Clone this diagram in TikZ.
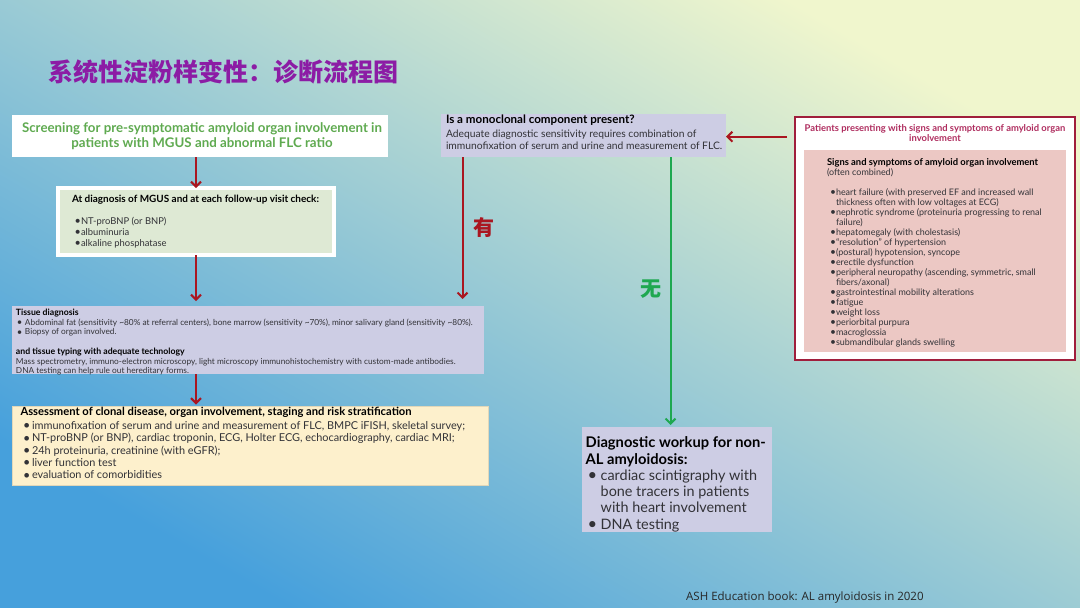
\documentclass[tikz,border=0pt]{standalone}
\usepackage{graphicx}
\usepackage{fontspec}
\setmainfont{Lato}
\newfontfamily\cjk{Noto Sans CJK SC}
\newfontfamily\footfont{Open Sans}
\usetikzlibrary{arrows.meta}
\setlength\parindent{0pt}
\definecolor{bgblue}{RGB}{70,160,220}
\definecolor{bgmid}{RGB}{150,205,215}
\definecolor{bgpale}{RGB}{240,246,205}
\definecolor{titlepurple}{RGB}{140,28,165}
\definecolor{arrowred}{RGB}{170,22,32}
\definecolor{arrowgreen}{RGB}{30,168,80}
\definecolor{scrgreen}{RGB}{95,170,80}
\definecolor{greenfill}{RGB}{222,233,212}
\definecolor{lav}{RGB}{205,205,228}
\definecolor{cream}{RGB}{253,240,204}
\definecolor{pinkfill}{RGB}{236,200,196}
\definecolor{maroon}{RGB}{160,30,60}
\definecolor{pinktitle}{RGB}{175,45,95}
\definecolor{txtgray}{RGB}{50,50,55}
\newcommand\bu[2]{\makebox[#2][l]{\hspace{#1}\rlap{\raisebox{-0.04em}{\scalebox{1.15}{\textbullet}}}}}
\newcommand\hd[2]{{\fontsize{#1}{#1}\selectfont\bfseries\color{black}#2}}
\begin{document}
\begin{tikzpicture}[x=1pt,y=-1pt,
  box/.style={rectangle, inner sep=0pt, outer sep=0pt, anchor=north west},
  txt/.style={inner sep=0pt, outer sep=0pt, anchor=north west, align=left, text=txtgray},
  redarr/.style={draw=arrowred, line width=2pt, -{Straight Barb[length=5pt,width=10pt]}},
  greenarr/.style={draw=arrowgreen, line width=2pt, -{Straight Barb[length=5pt,width=10pt]}}]
\useasboundingbox (0,0) rectangle (1080,608);
\shade[bottom color=bgblue, middle color=bgmid, top color=bgpale, shading angle=-30] (0,0) rectangle (1080,608);

\node[anchor=west, inner sep=0pt, text=titlepurple, font=\cjk\bfseries\fontsize{25}{26}\selectfont] (title) at (48,72) {系统性淀粉样变性：诊断流程图};

% box 1
\node[box, fill=white, minimum width=376pt, minimum height=42pt] (b1) at (12,115) {};
\node[inner sep=0pt, align=center, text=scrgreen, font=\bfseries\fontsize{13.3}{15}\selectfont] (b1t) at (202,136) {Screening for pre-symptomatic amyloid organ involvement in\\patients with MGUS and abnormal FLC ratio};

% box 2
\node[box, fill=greenfill, draw=white, line width=4pt, minimum width=276pt, minimum height=67pt] (b2) at (58,188) {};
\node[txt, font=\fontsize{9.4}{11}\selectfont] (b2t) at (72,195.2) {\hd{9.95}{At diagnosis of MGUS and at each follow-up visit check:}\\[10.7pt]
\bu{2.5pt}{9pt}NT-proBNP (or BNP)\\
\bu{2.5pt}{9pt}albuminuria\\
\bu{2.5pt}{9pt}alkaline phosphatase};

% box 3
\node[box, fill=lav, minimum width=472pt, minimum height=68pt] (b3) at (12,306) {};
\node[txt, font=\fontsize{8.3}{9.3}\selectfont] (b3t) at (16,309) {\hd{8.7}{Tissue diagnosis}\\[0.7pt]
\bu{0.8pt}{9pt}Abdominal fat (sensitivity \textasciitilde80\% at referral centers), bone marrow (sensitivity \textasciitilde70\%), minor salivary gland (sensitivity \textasciitilde80\%).\\
\bu{0.8pt}{9pt}Biopsy of organ involved.\\[10.7pt]
\hd{8.7}{and tissue typing with adequate technology}\\
Mass spectrometry, immuno-electron microscopy, light microscopy immunohistochemistry with custom-made antibodies.\\
DNA testing can help rule out hereditary forms.};

% box 4
\node[box, fill=cream, draw={rgb,255:red,225;green,215;blue,185}, line width=0.6pt, minimum width=476pt, minimum height=79pt] (b4) at (12,406) {};
\node[txt, font=\fontsize{10.9}{12.4}\selectfont] (b4t) at (20.5,407.3) {\hd{11.2}{Assessment of clonal disease, organ involvement, staging and risk stratification}\\[1.3pt]
\bu{2.5pt}{11.5pt}immunofixation of serum and urine and measurement of FLC, BMPC iFISH, skeletal survey;\\
\bu{2.5pt}{11.5pt}NT-proBNP (or BNP), cardiac troponin, ECG, Holter ECG, echocardiography, cardiac MRI;\\
\bu{2.5pt}{11.5pt}24h proteinuria, creatinine (with eGFR);\\
\bu{2.5pt}{11.5pt}liver function test\\
\bu{2.5pt}{11.5pt}evaluation of comorbidities};

% box 5
\node[box, fill=lav, minimum width=285pt, minimum height=43pt] (b5) at (441,114) {};
\node[txt, font=\fontsize{10.3}{12.5}\selectfont] (b5t) at (446,115) {\hd{11.6}{Is a monoclonal component present?}\\[1pt]
Adequate diagnostic sensitivity requires combination of\\
immunofixation of serum and urine and measurement of FLC.};

% box 6
\node[box, fill=lav, minimum width=190pt, minimum height=105pt] (b6) at (582,427) {};
\node[txt, font=\fontsize{14.4}{16.3}\selectfont] (b6t) at (585.7,436.8) {\hd{14.7}{Diagnostic workup for non-}\\
\hd{14.7}{AL amyloidosis:}\\
\bu{2pt}{15pt}cardiac scintigraphy with\\
\hspace*{15pt}bone tracers in patients\\
\hspace*{15pt}with heart involvement\\
\bu{2pt}{15pt}DNA testing};

% box 7
\node[box, fill=white, draw=maroon, line width=1.5pt, minimum width=280pt, minimum height=243pt] (b7) at (795,117) {};
\node[inner sep=0pt, align=center, text=pinktitle, font=\bfseries\fontsize{9.4}{10}\selectfont] (b7t) at (935,133.3) {Patients presenting with signs and symptoms of amyloid organ\\involvement};
\node[box, fill=pinkfill, minimum width=262pt, minimum height=202pt] (b7i) at (804,150) {};
\node[txt, font=\fontsize{8.95}{10}\selectfont] (b7it) at (827,158.1) {\hd{9.4}{Signs and symptoms of amyloid organ involvement}\\
(often combined)\\[10pt]
\bu{3pt}{9pt}heart failure (with preserved EF and increased wall\\
\hspace*{9pt}thickness often with low voltages at ECG)\\
\bu{3pt}{9pt}nephrotic syndrome (proteinuria progressing to renal\\
\hspace*{9pt}failure)\\
\bu{3pt}{9pt}hepatomegaly (with cholestasis)\\
\bu{3pt}{9pt}``resolution'' of hypertension\\
\bu{3pt}{9pt}(postural) hypotension, syncope\\
\bu{3pt}{9pt}erectile dysfunction\\
\bu{3pt}{9pt}peripheral neuropathy (ascending, symmetric, small\\
\hspace*{9pt}fibers/axonal)\\
\bu{3pt}{9pt}gastrointestinal mobility alterations\\
\bu{3pt}{9pt}fatigue\\
\bu{3pt}{9pt}weight loss\\
\bu{3pt}{9pt}periorbital purpura\\
\bu{3pt}{9pt}macroglossia\\
\bu{3pt}{9pt}submandibular glands swelling};

% footer
\node[anchor=base west, inner sep=0pt, text=black!85, font=\footfont\fontsize{11.5}{12}\selectfont] (foot) at (686,600.5) {ASH Education book: AL amyloidosis in 2020};

% connectors
\coordinate (yesx) at (462.5,0);
\coordinate (nox) at (670.5,0);
\draw[redarr] (b2.north |- b1.south) -- (b2.north);
\draw[redarr, shorten >=5pt] (b2.south) -- (b2.south |- b3.north);
\draw[redarr, shorten >=1.5pt] (b2.south |- b3.south) -- (b2.south |- b4.north);
\draw[redarr, shorten <=8pt] (b7.west |- 0,136.7) -- (b5.east |- 0,136.7);
\draw[redarr, shorten >=7pt] (b5.south -| yesx) -- node[right=7pt, pos=0.47, text=arrowred, font=\cjk\bfseries\fontsize{21}{22}\selectfont] (yes) {有} (b3.north -| yesx);
\draw[greenarr, shorten >=2pt] (b5.south -| nox) -- node[left=5pt, pos=0.49, text=arrowgreen, font=\cjk\bfseries\fontsize{21}{22}\selectfont] (no) {无} (b6.north -| nox);
\end{tikzpicture}
\end{document}
